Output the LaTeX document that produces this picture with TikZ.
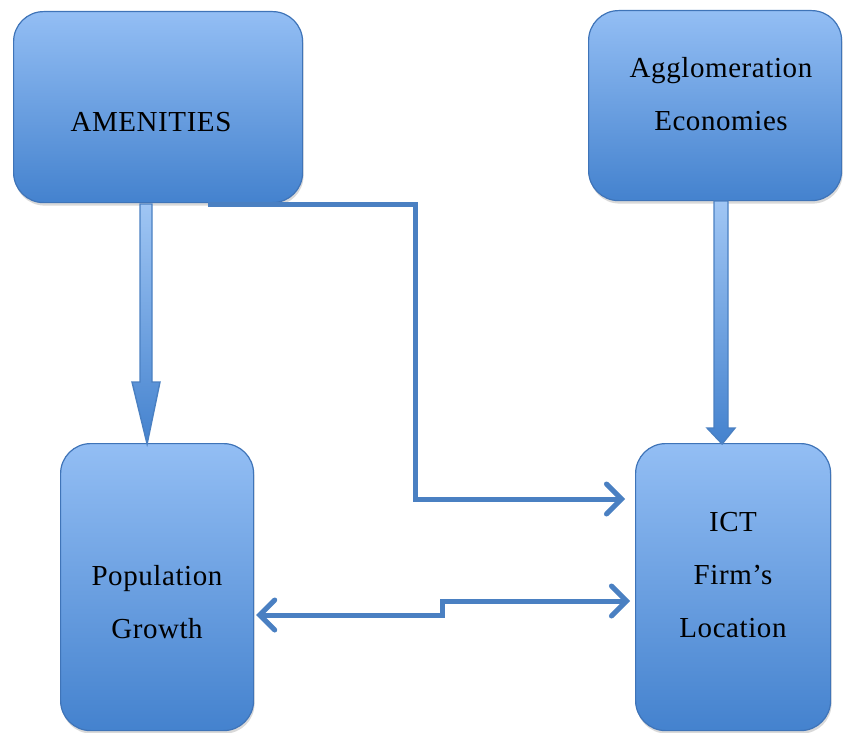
\documentclass[tikz,border=0pt]{standalone}
\usepackage{fontspec}
\setmainfont{Liberation Serif}[LetterSpace=2]
\usetikzlibrary{arrows.meta,shadows,calc}

\definecolor{boxtop}{HTML}{93BEF4}
\definecolor{boxbot}{HTML}{4482CE}
\definecolor{boxedge}{HTML}{3F74B8}
\definecolor{linkblue}{HTML}{4A80C2}
\definecolor{shafttop}{HTML}{A0C6F4}

\tikzset{
  box/.style={rectangle, rounded corners=30pt, draw=boxedge, line width=1.2pt,
    top color=boxtop, bottom color=boxbot, inner sep=0pt, anchor=north west,
    drop shadow={shadow xshift=1pt, shadow yshift=-3pt, opacity=0.25, fill=black!60}},
  label/.style={font=\fontsize{29}{53}\selectfont, align=center, text=black},
  link/.style={draw=linkblue, line width=5pt, line join=miter},
  barb/.tip={Straight Barb[length=15pt, width=30pt, line width=5pt, line cap=round]},
  blockarrow/.style={draw=linkblue, line width=1.4pt, top color=shafttop, bottom color=boxbot, line join=miter}
}

\begin{document}
\begin{tikzpicture}[x=1pt, y=-1pt]
  \useasboundingbox (0,0) rectangle (843,733);

  % boxes
  \node[box, minimum width=289pt, minimum height=191pt] (amen) at (13,11) {};
  \node[box, minimum width=253pt, minimum height=190pt] (aggl) at (588,10) {};
  \node[box, minimum width=193pt, minimum height=287pt] (pop) at (60,443) {};
  \node[box, minimum width=195pt, minimum height=287pt] (ict) at (635,443) {};

  % box texts
  \node[label] (amentext) at (151,122) {AMENITIES};
  \node[label] (aggltext) at (721,94) {Agglomeration\\Economies};
  \node[label] (poptext) at (157,602) {Population\\Growth};
  \node[label] (icttext) at (733,575) {ICT\\Firm’s\\Location};

  % elbow link from amenities to the firm's location
  \draw[link, -barb] ($(amen.south)+(50,1)$) -| (415,499) -- ($(ict.west |- 0,499)+(-10,0)$);

  % two-way link between population growth and the firm's location
  \draw[link, barb-barb]
    ($(pop.east |- 0,615)+(2,0)$) -- (442,615) -- (442,601) -- ($(ict.west |- 0,601)+(-5,0)$);

  % block arrow: amenities to population growth
  \coordinate (atip) at ($(pop.north)+(-10,1)$);
  \draw[blockarrow] (140,204) -- (152,204) -- (152,382) -- (160,382) -- (atip)
    -- (132,382) -- (140,382) -- cycle;

  % block arrow: agglomeration economies to the firm's location
  \coordinate (btip) at ($(ict.north)+(-11,1)$);
  \draw[blockarrow] (714,201) -- (728,201) -- (728,428) -- (735,428) -- (btip)
    -- (707,428) -- (714,428) -- cycle;
\end{tikzpicture}
\end{document}
